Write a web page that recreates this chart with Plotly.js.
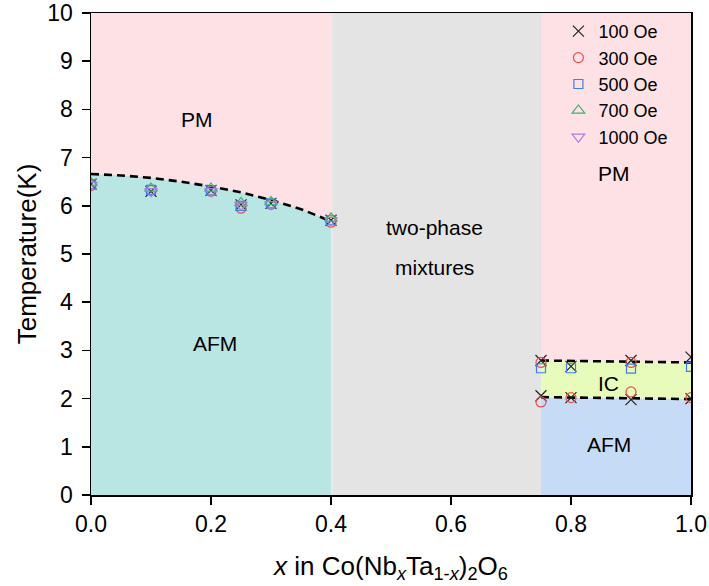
<!DOCTYPE html>
<html>
<head>
<meta charset="utf-8">
<script src="https://cdn.plot.ly/plotly-3.0.1.min.js"></script>
<style>html,body{margin:0;padding:0;background:#fff;}#chart{width:709px;height:586px;}</style>
</head>
<body>
<div id="chart"></div>
<script>
// ---- data ----
var fieldLabels = ["100 Oe", "300 Oe", "500 Oe", "700 Oe", "1000 Oe"];

var x100 = [0, 0.1, 0.2, 0.25, 0.3, 0.4, 0.75, 0.8, 0.9, 1.0, 0.75, 0.8, 0.9, 1.0];
var T100 = [6.45, 6.30, 6.32, 6.02, 6.05, 5.70, 2.79, 2.67, 2.79, 2.86, 2.06, 2.02, 1.98, 2.00];

var x300 = [0, 0.1, 0.2, 0.25, 0.3, 0.4, 0.75, 0.9, 0.75, 0.8, 0.9, 1.0];
var T300 = [6.42, 6.32, 6.30, 5.95, 6.03, 5.66, 2.75, 2.75, 1.93, 2.02, 2.14, 2.02];

var x500 = [0, 0.1, 0.2, 0.25, 0.3, 0.4, 0.75, 0.8, 0.9, 1.0];
var T500 = [6.45, 6.33, 6.32, 6.00, 6.05, 5.70, 2.63, 2.63, 2.62, 2.66];

var x700 = [0, 0.1, 0.2, 0.25, 0.3, 0.4];
var T700 = [6.48, 6.36, 6.36, 6.06, 6.08, 5.74];

var x1000 = [0, 0.1, 0.2, 0.25, 0.3, 0.4];
var T1000 = [6.43, 6.30, 6.30, 6.02, 6.03, 5.70];

// phase boundaries
var xCurve = [0, 0.05, 0.1, 0.15, 0.2, 0.25, 0.3, 0.35, 0.4];
var TCurve = [6.66, 6.63, 6.58, 6.50, 6.40, 6.28, 6.12, 5.93, 5.68];
var xUpper = [0.75, 1.0];
var TUpper = [2.79, 2.75];
var xLower = [0.75, 1.0];
var TLower = [2.03, 1.99];
var xTwoPhase = [0.402, 0.75];
var xMax = 1.0, TMax = 10;

var regionLabels = [
  {text: "PM", x: 0.177, y: 7.80},
  {text: "AFM", x: 0.207, y: 3.15},
  {text: "two-phase", x: 0.573, y: 5.54},
  {text: "mixtures", x: 0.573, y: 4.73},
  {text: "PM", x: 0.872, y: 6.66},
  {text: "IC", x: 0.862, y: 2.32},
  {text: "AFM", x: 0.863, y: 1.04}
];

// ---- colours ----
var cPM = "#fde1e4", cAFM1 = "#b9e5e3", cGray = "#e4e4e4", cAFM2 = "#c6dcf6", cIC = "#e7fcbb";

var FONT = "Liberation Sans, Arial, Helvetica, sans-serif";

var traces = [];
// fills
traces.push({x: xCurve, y: TCurve, mode: "lines", fill: "tozeroy", fillcolor: cAFM1,
  line: {width: 0}, showlegend: false, hoverinfo: "skip"});
traces.push({x: xLower, y: TLower, mode: "lines", fill: "tozeroy", fillcolor: cAFM2,
  line: {width: 0}, showlegend: false, hoverinfo: "skip"});
traces.push({x: xUpper, y: TUpper, mode: "lines", fill: "tonexty", fillcolor: cIC,
  line: {width: 0}, showlegend: false, hoverinfo: "skip"});
// dashed boundaries
var dashLine = {color: "#000", width: 2.6, dash: "8px,5px"};
[[xCurve, TCurve], [xUpper, TUpper], [xLower, TLower]].forEach(function (p) {
  traces.push({x: p[0], y: p[1], mode: "lines", line: dashLine, showlegend: false, hoverinfo: "skip"});
});
// markers
var series = [
  {x: x100, y: T100, sym: "x-thin-open", col: "#222222", size: 11},
  {x: x300, y: T300, sym: "circle-open", col: "#ef4f4f", size: 10},
  {x: x500, y: T500, sym: "square-open", col: "#3d7fe3", size: 9},
  {x: x700, y: T700, sym: "triangle-up-open", col: "#3fb56a", size: 11},
  {x: x1000, y: T1000, sym: "triangle-down-open", col: "#a57fe3", size: 11}
];
series.forEach(function (s, i) {
  traces.push({x: s.x, y: s.y, mode: "markers", name: fieldLabels[i],
    marker: {symbol: s.sym, size: s.size, color: s.col, line: {color: s.col, width: 1.2}},
    cliponaxis: true, hoverinfo: "skip"});
});

var shapes = [
  {type: "rect", xref: "x", yref: "y", x0: 0, x1: xTwoPhase[0], y0: 0, y1: TMax, fillcolor: cPM, line: {width: 0}, layer: "below"},
  {type: "rect", xref: "x", yref: "y", x0: xTwoPhase[0], x1: xTwoPhase[1], y0: 0, y1: TMax, fillcolor: cGray, line: {width: 0}, layer: "below"},
  {type: "rect", xref: "x", yref: "y", x0: xTwoPhase[1], x1: xMax, y0: 0, y1: TMax, fillcolor: cPM, line: {width: 0}, layer: "below"}
];

var annotations = regionLabels.map(function (a) {
  return {x: a.x, y: a.y, xref: "x", yref: "y", text: a.text, showarrow: false,
    font: {family: FONT, size: 21, color: "#000"}};
});

var axisCommon = {
  showgrid: false, zeroline: false, showline: true, linecolor: "#000", linewidth: 1.5,
  mirror: true, ticks: "outside", ticklen: 8, tickwidth: 1.5, tickcolor: "#000",
  tickfont: {family: FONT, size: 23, color: "#000"}
};

var layout = {
  width: 709, height: 586,
  margin: {l: 91, r: 18, t: 13, b: 91},
  paper_bgcolor: "#fff", plot_bgcolor: "rgba(0,0,0,0)",
  font: {family: FONT, color: "#000"},
  xaxis: Object.assign({}, axisCommon, {
    range: [0, 1], tick0: 0, dtick: 0.2, tickformat: ".1f",
    title: {text: "<i>x</i> in Co(Nb<sub><i>x</i></sub>Ta<sub>1-<i>x</i></sub>)<sub>2</sub>O<sub>6</sub>",
      font: {family: FONT, size: 26, color: "#000"}, standoff: 20}
  }),
  yaxis: Object.assign({}, axisCommon, {
    range: [0, 10], tick0: 0, dtick: 1, ticklabelstandoff: 4,
    title: {text: "Temperature(K)", font: {family: FONT, size: 26, color: "#000"}, standoff: 3}
  }),
  shapes: shapes,
  annotations: annotations,
  showlegend: true,
  legend: {x: 0.779, y: 1, xanchor: "left", yanchor: "top",
    bgcolor: "rgba(0,0,0,0)",
    borderwidth: 0, font: {family: FONT, size: 18, color: "#000"}, tracegroupgap: 0,
    traceorder: "normal", itemwidth: 30},
  hovermode: false
};

Plotly.newPlot("chart", traces, layout, {displayModeBar: false, staticPlot: true});
</script>
</body>
</html>
